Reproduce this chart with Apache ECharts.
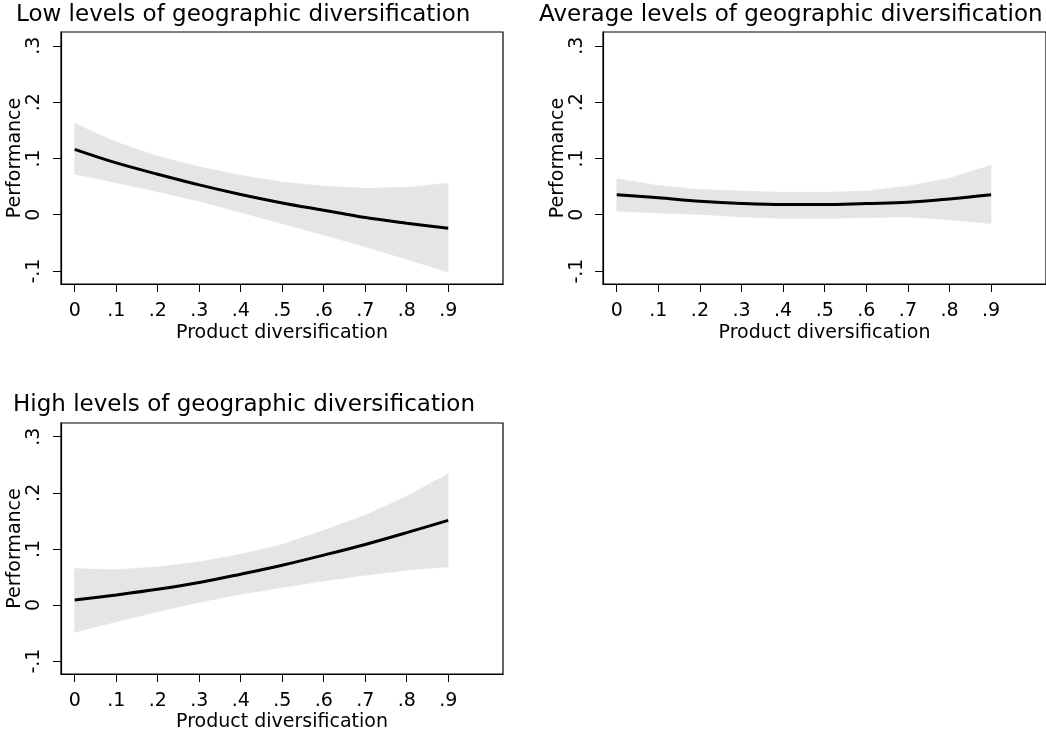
<!DOCTYPE html>
<html>
<head>
<meta charset="utf-8">
<style>
  html, body { margin: 0; padding: 0; background: #fff; }
  #chart { width: 1046px; height: 733px; }
</style>
<script src="https://cdn.jsdelivr.net/npm/echarts@6/dist/echarts.min.js"></script>
</head>
<body>
<div id="chart"></div>
<script>
// ---- Data ----
const titles = [
  'Low levels of geographic diversification',
  'Average levels of geographic diversification',
  'High levels of geographic diversification'
];
const xLabel = 'Product diversification';
const yLabel = 'Performance';

const xValues = [0, 0.1, 0.2, 0.3, 0.4, 0.5, 0.6, 0.7, 0.8, 0.9];
const xTicks = [0, 0.1, 0.2, 0.3, 0.4, 0.5, 0.6, 0.7, 0.8, 0.9];
const xTickLabels = ['0', '.1', '.2', '.3', '.4', '.5', '.6', '.7', '.8', '.9'];
const yTicks = [-0.1, 0, 0.1, 0.2, 0.3];
const yTickLabels = ['-.1', '0', '.1', '.2', '.3'];

// Low levels of geographic diversification
const lowMean  = [0.116, 0.092, 0.072, 0.053, 0.036, 0.021, 0.008, -0.005, -0.015, -0.024];
const lowUpper = [0.162, 0.129, 0.104, 0.085, 0.070, 0.058, 0.051, 0.047, 0.049, 0.056];
const lowLower = [0.072, 0.057, 0.041, 0.024, 0.004, -0.016, -0.036, -0.057, -0.079, -0.102];

// Average levels of geographic diversification
const avgMean  = [0.0355, 0.030, 0.024, 0.020, 0.018, 0.018, 0.020, 0.022, 0.028, 0.0355];
const avgUpper = [0.064, 0.052, 0.045, 0.042, 0.040, 0.040, 0.042, 0.051, 0.065, 0.088];
const avgLower = [0.006, 0.003, 0.0006, -0.004, -0.0065, -0.0065, -0.005, -0.004, -0.009, -0.016];

// High levels of geographic diversification
const highMean  = [0.009, 0.018, 0.028, 0.040, 0.055, 0.071, 0.089, 0.108, 0.129, 0.151];
const highUpper = [0.065, 0.063, 0.068, 0.077, 0.0905, 0.108, 0.133, 0.160, 0.194, 0.234];
const highLower = [-0.0485, -0.030, -0.012, 0.005, 0.019, 0.031, 0.043, 0.053, 0.062, 0.068];

// ---- Chart ----
const FONT = 'DejaVu Sans';
const panels = [
  { mean: lowMean, upper: lowUpper, lower: lowLower,
    grid: { left: 61, top: 32, width: 442, height: 252 },
    title: { left: 16, top: 4 }, yNameGap: 35, yLabelMargin: 17, xNameGap: 40, xLabelMargin: 18 },
  { mean: avgMean, upper: avgUpper, lower: avgLower,
    grid: { left: 603, top: 32, width: 443, height: 252 },
    title: { left: 539, top: 4 }, yNameGap: 33, yLabelMargin: 16, xNameGap: 40, xLabelMargin: 18 },
  { mean: highMean, upper: highUpper, lower: highLower,
    grid: { left: 61, top: 423, width: 442, height: 253 },
    title: { left: 13, top: 394 }, yNameGap: 35, yLabelMargin: 17, xNameGap: 39, xLabelMargin: 18 }
];

function labelFor(ticks, labels) {
  return function (v) {
    const i = ticks.findIndex(t => Math.abs(t - v) < 1e-9);
    return i >= 0 ? labels[i] : '';
  };
}

// Confidence band: one polygon through upper points then lower points (reversed),
// positioned with the axes' own scales via api.coord.
function bandRenderer(upper, lower) {
  return function (params, api) {
    if (params.dataIndex !== 0) return null;
    const pts = [];
    for (let k = 0; k < xValues.length; k++) pts.push(api.coord([xValues[k], upper[k]]));
    for (let k = xValues.length - 1; k >= 0; k--) pts.push(api.coord([xValues[k], lower[k]]));
    return {
      type: 'polygon',
      shape: { points: pts },
      style: { fill: '#e5e5e5', stroke: '#e5e5e5', lineWidth: 0.5 }
    };
  };
}

const option = {
  animation: false,
  backgroundColor: '#fff',
  title: [], grid: [], xAxis: [], yAxis: [], series: []
};

panels.forEach((p, i) => {
  option.title.push({
    text: titles[i], left: p.title.left, top: p.title.top, padding: 0,
    textStyle: { fontFamily: FONT, fontSize: 23, fontWeight: 'normal', color: '#000' }
  });
  option.grid.push(Object.assign({
    show: true, borderColor: '#000', borderWidth: 1.2, backgroundColor: '#fff', containLabel: false
  }, p.grid));
  option.xAxis.push({
    type: 'value', gridIndex: i, min: -0.033, max: 1.032,
    axisLine: { show: true, onZero: false, lineStyle: { color: '#000', width: 1.2 } },
    axisTick: { show: true, inside: false, length: 8, customValues: xTicks, lineStyle: { color: '#000', width: 1 } },
    axisLabel: { customValues: xTicks, formatter: labelFor(xTicks, xTickLabels),
      color: '#000', fontFamily: FONT, fontSize: 19, margin: p.xLabelMargin },
    splitLine: { show: false },
    name: xLabel, nameLocation: 'middle', nameGap: p.xNameGap,
    nameTextStyle: { color: '#000', fontFamily: FONT, fontSize: 19 }
  });
  option.yAxis.push({
    type: 'value', gridIndex: i, min: -0.123, max: 0.3245,
    axisLine: { show: true, onZero: false, lineStyle: { color: '#000', width: 1.2 } },
    axisTick: { show: true, inside: false, length: 8, customValues: yTicks, lineStyle: { color: '#000', width: 1 } },
    axisLabel: { customValues: yTicks, formatter: labelFor(yTicks, yTickLabels), rotate: 90,
      color: '#000', fontFamily: FONT, fontSize: 19, margin: p.yLabelMargin },
    splitLine: { show: false },
    name: yLabel, nameLocation: 'middle', nameGap: p.yNameGap,
    nameTextStyle: { color: '#000', fontFamily: FONT, fontSize: 19 }
  });
  option.series.push({
    type: 'custom', xAxisIndex: i, yAxisIndex: i, silent: true, clip: true, z: 1,
    renderItem: bandRenderer(p.upper, p.lower),
    data: xValues.map((x, k) => [x, p.lower[k], p.upper[k]]),
    encode: { x: 0, y: [1, 2] }
  });
  option.series.push({
    type: 'line', xAxisIndex: i, yAxisIndex: i, symbol: 'none', smooth: 0.35,
    data: xValues.map((x, k) => [x, p.mean[k]]),
    lineStyle: { color: '#000', width: 3 }, z: 3
  });
});

const chart = echarts.init(document.getElementById('chart'), null, { renderer: 'canvas' });
chart.setOption(option);
</script>
</body>
</html>
